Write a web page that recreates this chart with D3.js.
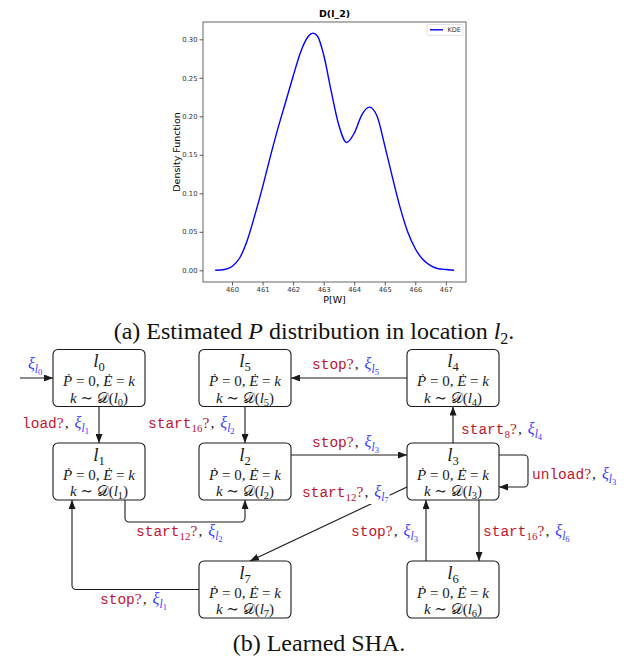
<!doctype html>
<meta charset="utf-8">
<style>
body {
  margin: 0;
  background: #fff;
}
</style>
<script src="https://cdn.jsdelivr.net/npm/d3@7/dist/d3.min.js"></script>
<body>
<script>

var w = 624, h = 660;

// KDE of P in location l2
var kdeX = [459.45, 459.75, 460.0, 460.25, 460.5, 460.75, 461.0, 461.25, 461.5, 461.75,
            462.0, 462.25, 462.5, 462.65, 462.8, 463.0, 463.25, 463.5, 463.75, 464.0,
            464.25, 464.5, 464.75, 465.0, 465.25, 465.5, 465.75, 466.0, 466.25, 466.5,
            466.75, 467.0, 467.27];
var kdeY = [0.000, 0.001, 0.005, 0.016, 0.039, 0.072, 0.108, 0.147, 0.184, 0.218,
            0.252, 0.284, 0.304, 0.308, 0.304, 0.280, 0.232, 0.188, 0.166, 0.178,
            0.202, 0.212, 0.200, 0.162, 0.121, 0.082, 0.050, 0.028, 0.014, 0.006,
            0.002, 0.001, 0.000];
var xTicks = [460, 461, 462, 463, 464, 465, 466, 467];
var yTicks = [0, 0.05, 0.10, 0.15, 0.20, 0.25, 0.30];

// learned automaton
var locNames = ["0", "1", "2", "3", "4", "5", "6", "7"];
var locCol = [0, 0, 1, 2, 2, 1, 2, 1];
var locRow = [0, 1, 1, 1, 0, 0, 2, 2];

var edgeFrom  = [0, 5, 4, 2, 3, 3, 1, 3, 7, 6, 3];
var edgeTo    = [1, 2, 5, 3, 4, 3, 2, 7, 1, 3, 6];
var edgeEvent = ["load", "start", "stop", "stop", "start", "unload", "start", "start", "stop", "stop", "start"];
var edgeSub   = ["", "16", "", "", "8", "", "12", "12", "", "", "16"];
var edgeXi    = ["1", "2", "5", "3", "4", "3", "2", "7", "1", "3", "6"];
var initLoc = 0;

var red = "#be1530", blue = "#3a3aff", ink = "#1a1a1a";
var serif = "'Liberation Serif', 'DejaVu Serif', serif";
var mono = "'Liberation Mono', 'DejaVu Sans Mono', monospace";
var sans = "'DejaVu Sans', sans-serif";

var svg = d3.select("body")
  .append("svg")
    .attr("width", w)
    .attr("height", h)
    .style("background", "#fff");

var defs = svg.append("defs");
defs.append("marker")
    .attr("id", "arrow")
    .attr("viewBox", "0 -3.5 9 7")
    .attr("refX", 9)
    .attr("refY", 0)
    .attr("markerUnits", "userSpaceOnUse")
    .attr("markerWidth", 9)
    .attr("markerHeight", 7)
    .attr("orient", "auto")
  .append("path")
    .attr("d", "M0,-3.5L9,0L0,3.5Z")
    .attr("fill", ink);

// ---------- (a) KDE plot ----------

var x = d3.scaleLinear().domain([459.05, 467.66]).range([203, 466]);
var y = d3.scaleLinear().domain([-0.0152, 0.3225]).range([282, 22]);

var plot = svg.append("g");

plot.append("path")
    .datum(d3.range(kdeX.length))
    .attr("d", d3.line()
      .x(function(i) { return x(kdeX[i]); })
      .y(function(i) { return y(kdeY[i]); })
      .curve(d3.curveMonotoneX))
    .attr("fill", "none")
    .attr("stroke", "#0000ff")
    .attr("stroke-width", 1.4);

plot.append("rect")
    .attr("x", 203).attr("y", 22)
    .attr("width", 263).attr("height", 260)
    .attr("fill", "none")
    .attr("stroke", "#555")
    .attr("stroke-width", 0.9);

var xAxis = plot.append("g")
    .attr("transform", "translate(0,282)")
    .call(d3.axisBottom(x).tickValues(xTicks).tickSize(3.5).tickPadding(2).tickFormat(d3.format("d")));
var yAxis = plot.append("g")
    .attr("transform", "translate(203,0)")
    .call(d3.axisLeft(y).tickValues(yTicks).tickSize(3.5).tickPadding(2).tickFormat(d3.format(".2f")));
[xAxis, yAxis].forEach(function(a) {
  a.select(".domain").remove();
  a.selectAll("line").attr("stroke", "#333").attr("stroke-width", 0.8);
  a.selectAll("text").attr("font-family", sans).attr("font-size", 6.8).attr("fill", "#333");
});

plot.append("text")
    .attr("x", 334.5).attr("y", 17)
    .attr("text-anchor", "middle")
    .attr("font-family", sans).attr("font-weight", "bold").attr("font-size", 9.5)
    .text("D(l_2)");
plot.append("text")
    .attr("x", 334.5).attr("y", 303)
    .attr("text-anchor", "middle")
    .attr("font-family", sans).attr("font-size", 9.5)
    .text("P[W]");
plot.append("text")
    .attr("transform", "translate(180,152) rotate(-90)")
    .attr("text-anchor", "middle")
    .attr("font-family", sans).attr("font-size", 9.5)
    .text("Density Function");

// legend
plot.append("rect")
    .attr("x", 427).attr("y", 24.5)
    .attr("width", 36).attr("height", 11)
    .attr("rx", 1.5)
    .attr("fill", "#fff")
    .attr("stroke", "#d6d6d6")
    .attr("stroke-width", 0.7);
plot.append("line")
    .attr("x1", 430).attr("x2", 443)
    .attr("y1", 29.8).attr("y2", 29.8)
    .attr("stroke", "#0000ff")
    .attr("stroke-width", 1.4);
plot.append("text")
    .attr("x", 447.5).attr("y", 32.2)
    .attr("font-family", sans).attr("font-size", 6.5)
    .attr("fill", "#333")
    .text("KDE");

function caption(cx, cy, parts) {
  var t = svg.append("text")
      .attr("x", cx).attr("y", cy)
      .attr("text-anchor", "middle")
      .attr("font-family", serif).attr("font-size", 24)
      .attr("fill", "#111");
  parts.forEach(function(p) {
    var s = t.append("tspan").text(p[0]);
    if (p[1] == "i") s.attr("font-style", "italic");
    if (p[1] == "sub") s.attr("font-size", 16).attr("dy", 5);
    if (p[1] == "up") s.attr("dy", -5);
  });
}

caption(314, 339, [["(a) Estimated "], ["P", "i"], [" distribution in location "], ["l", "i"], ["2", "sub"], [".", "up"]]);
caption(319, 651, [["(b) Learned SHA."]]);

// ---------- (b) automaton ----------

var colX = d3.scaleOrdinal().domain([0, 1, 2]).range([99, 245, 453]);
var rowY = d3.scaleOrdinal().domain([0, 1, 2]).range([378, 471.5, 589.5]);
var bw = 92, bh = 57;

function cx(n) { return colX(locCol[n]); }
function cy(n) { return rowY(locRow[n]); }
function L(n) { return cx(n) - bw / 2; }
function R(n) { return cx(n) + bw / 2; }
function T(n) { return cy(n) - bh / 2; }
function B(n) { return cy(n) + bh / 2; }

var diag = svg.append("g");

// rounded polyline
function route(pts, r) {
  var p = d3.path();
  p.moveTo(pts[0][0], pts[0][1]);
  for (var i = 1; i < pts.length - 1; i++) {
    p.arcTo(pts[i][0], pts[i][1], pts[i + 1][0], pts[i + 1][1], r);
  }
  p.lineTo(pts[pts.length - 1][0], pts[pts.length - 1][1]);
  return p.toString();
}

// geometry of each edge: points and label anchor
function edgeGeom(i) {
  var a = edgeFrom[i], b = edgeTo[i];
  switch (i) {
    case 0:  return { pts: [[cx(a), B(a)], [cx(b), T(b)]], lx: 22, ly: 428 };
    case 1:  return { pts: [[cx(a), B(a)], [cx(b), T(b)]], lx: 148, ly: 428 };
    case 2:  return { pts: [[L(a), cy(a)], [R(b), cy(b)]], lx: 312, ly: 369 };
    case 3:  return { pts: [[R(a), cy(a) - 16.5], [L(b), cy(b) - 16.5]], lx: 312, ly: 447 };
    case 4:  return { pts: [[cx(a), T(a)], [cx(b), B(b)]], lx: 461, ly: 434 };
    case 5:  return { pts: [[R(a), cy(a) - 16.5], [R(a) + 29, cy(a) - 16.5], [R(a) + 29, cy(a) + 15.5], [R(a), cy(a) + 15.5]], lx: 532, ly: 479 };
    case 6:  return { pts: [[cx(a) + 26, B(a)], [cx(a) + 26, B(a) + 22], [cx(b), B(a) + 22], [cx(b), B(b)]], lx: 136, ly: 536 };
    case 7:  return { pts: [[L(a), cy(a) + 15.5], [cx(b) + 5, T(b)]], lx: 302, ly: 497, bg: true };
    case 8:  return { pts: [[L(a) + 3, cy(a)], [L(b) + 19, cy(a)], [L(b) + 19, B(b)]], lx: 100, ly: 604 };
    case 9:  return { pts: [[cx(a) - 27, T(a)], [cx(a) - 27, B(b)]], lx: 351, ly: 536 };
    case 10: return { pts: [[cx(b) + 26, B(a)], [cx(b) + 26, T(b)]], lx: 483, ly: 536 };
  }
}

function xiLabel(t, sub, gap) {
  t.append("tspan").attr("font-family", serif).attr("font-style", "italic")
      .attr("font-size", 16).attr("fill", blue).attr("dx", gap || 0).text("\u03be");
  t.append("tspan").attr("font-family", serif).attr("font-style", "italic")
      .attr("font-size", 11.5).attr("fill", blue).attr("dy", 4).text("l");
  t.append("tspan").attr("font-family", serif)
      .attr("font-size", 8.5).attr("fill", blue).attr("dy", 2).text(sub);
}

function edgeLabel(i, g) {
  var t = diag.append("text")
      .attr("x", g.lx).attr("y", g.ly);
  t.append("tspan").attr("font-family", mono).attr("font-size", 14.5)
      .attr("fill", red).text(edgeEvent[i]);
  if (edgeSub[i]) {
    t.append("tspan").attr("font-family", serif).attr("font-size", 11)
        .attr("fill", red).attr("dy", 3.5).text(edgeSub[i]);
  }
  t.append("tspan").attr("font-family", serif).attr("font-size", 15.5)
      .attr("fill", red).attr("dy", edgeSub[i] ? -3.5 : 0).text("?");
  t.append("tspan").attr("font-family", serif).attr("font-size", 15.5)
      .attr("fill", ink).attr("dx", 1).text(",");
  xiLabel(t, edgeXi[i], 6);
  return t;
}

// edges
d3.range(edgeFrom.length).forEach(function(i) {
  var g = edgeGeom(i);
  diag.append("path")
      .attr("d", route(g.pts, 4))
      .attr("fill", "none")
      .attr("stroke", ink)
      .attr("stroke-width", 1.1)
      .attr("marker-end", "url(#arrow)");
  var t = edgeLabel(i, g);
  if (g.bg) {
    var bb = t.node().getBBox();
    diag.insert("rect", function() { return t.node(); })
        .attr("x", bb.x - 1).attr("y", bb.y + 1)
        .attr("width", bb.width + 2).attr("height", bb.height - 2)
        .attr("fill", "#fff");
  }
});

// initial arrow
diag.append("path")
    .attr("d", route([[20, cy(initLoc)], [L(initLoc), cy(initLoc)]], 0))
    .attr("stroke", ink)
    .attr("stroke-width", 1.1)
    .attr("marker-end", "url(#arrow)");
var it = diag.append("text").attr("x", 28).attr("y", 369);
xiLabel(it, locNames[initLoc], 0);

// locations
var loc = diag.selectAll("g.loc")
  .data(d3.range(locNames.length))
  .enter().append("g")
    .attr("class", "loc")
    .attr("transform", function(n) { return "translate(" + cx(n) + "," + cy(n) + ")"; });

loc.append("rect")
    .attr("x", -bw / 2).attr("y", -bh / 2)
    .attr("width", bw).attr("height", bh)
    .attr("rx", 5)
    .attr("fill", "#fff")
    .attr("stroke", ink)
    .attr("stroke-width", 1.1);

loc.each(function(n) {
  var g = d3.select(this);
  var t1 = g.append("text")
      .attr("y", -11)
      .attr("text-anchor", "middle")
      .attr("font-family", serif).attr("fill", ink);
  t1.append("tspan").attr("font-style", "italic").attr("font-size", 19).text("l");
  t1.append("tspan").attr("font-size", 12.5).attr("dy", 4).text(locNames[n]);

  var t2 = g.append("text")
      .attr("y", 8)
      .attr("text-anchor", "middle")
      .attr("font-family", serif).attr("font-size", 15).attr("fill", ink);
  t2.append("tspan").attr("font-style", "italic").text("P\u0307");
  t2.append("tspan").text(" = 0, ");
  t2.append("tspan").attr("font-style", "italic").text("E\u0307");
  t2.append("tspan").text(" = ");
  t2.append("tspan").attr("font-style", "italic").text("k");

  var t3 = g.append("text")
      .attr("y", 24.5)
      .attr("text-anchor", "middle")
      .attr("font-family", serif).attr("font-size", 15).attr("fill", ink);
  t3.append("tspan").attr("font-style", "italic").text("k");
  t3.append("tspan").text(" \u223c ");
  t3.append("tspan").text("\ud835\udc9f");
  t3.append("tspan").text("(");
  t3.append("tspan").attr("font-style", "italic").text("l");
  t3.append("tspan").attr("font-size", 10.5).attr("dy", 3).text(locNames[n]);
  t3.append("tspan").attr("dy", -3).text(")");
});

</script>
